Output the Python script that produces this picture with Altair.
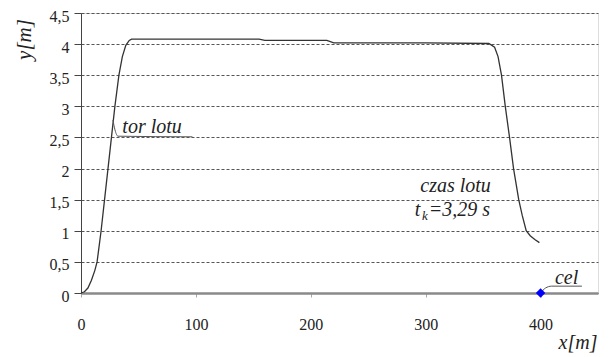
import altair as alt
import pandas as pd

# flight path (x [m], y [m])
path_x = [0, 3, 6, 9, 12, 14, 17.5, 20.5, 23.5, 26.5, 29.5, 33, 36, 39, 42, 44,
          100, 155, 160, 214, 220, 300, 355, 360, 363, 366, 369.3, 373, 376.5,
          381, 384, 387.5, 391, 395, 399]
path_y = [0, 0.02, 0.08, 0.2, 0.36, 0.5, 1.0, 1.5, 2.0, 2.5, 3.0, 3.5, 3.8, 3.98, 4.06, 4.08,
          4.08, 4.08, 4.06, 4.06, 4.02, 4.02, 4.01, 3.95, 3.8, 3.5, 3.0, 2.5, 2.0,
          1.5, 1.25, 1.0, 0.92, 0.86, 0.81]

# target
target_x = [400]
target_y = [0]

# leader lines for annotations
tor_lead_x = [27.8, 29.6, 32.2, 97]
tor_lead_y = [2.78, 2.62, 2.52, 2.51]
cel_lead_x = [400, 404.3, 409.6, 436]
cel_lead_y = [0, 0.08, 0.11, 0.11]

# annotation texts
ann_text = ["tor lotu", "czas lotu", "t", "=3,29 s", "cel"]
ann_x = [36.0, 326, 290.5, 302.6, 412.5]
ann_y = [2.57, 1.62, 1.24, 1.24, 0.145]
ann_align = ["left", "center", "left", "left", "left"]
sub_text = ["k"]
sub_x = [296.8]
sub_y = [1.18]

y_ticks = [0, 0.5, 1, 1.5, 2, 2.5, 3, 3.5, 4, 4.5]
x_ticks = [0, 100, 200, 300, 400]

FONT = "serif"

xs = alt.Scale(domain=[0, 450], nice=False)
ys = alt.Scale(domain=[0, 4.5], nice=False)

x_axis = alt.Axis(
    values=x_ticks, grid=False, domainColor="#8a8a8a", domainWidth=2.5,
    tickColor="#aaaaaa", tickSize=4, labelPadding=19,
    labelFont=FONT, labelFontSize=16, labelColor="#222222", labelFlush=False,
    title="x[m]", titleFont=FONT, titleFontStyle="italic", titleFontWeight="normal",
    titleFontSize=20, titleColor="#222222", titleX=516, titleY=55,
    titleAlign="right", titleBaseline="alphabetic")
y_axis = alt.Axis(
    values=y_ticks, grid=True, gridColor="#555555", gridDash=[3, 2], gridWidth=1,
    domainColor="#444444", tickColor="#444444", tickSize=7, labelPadding=5,
    labelFont=FONT, labelFontSize=16, labelColor="#222222", labelFlush=False,
    labelOverlap=False, labelOffset=3,
    labelExpr="replace(format(datum.value, '~g'), '.', ',')",
    title="y[m]", titleFont=FONT, titleFontStyle="italic", titleFontWeight="normal",
    titleFontSize=21, titleColor="#222222", titleAngle=270, titleX=-57, titleY=26,
    titleAlign="center", titleBaseline="middle")


def X():
    return alt.X("x:Q", scale=xs, axis=x_axis)


def Y():
    return alt.Y("y:Q", scale=ys, axis=y_axis)


path_df = pd.DataFrame({"x": path_x, "y": path_y, "o": range(len(path_x))})
curve = alt.Chart(path_df).mark_line(color="#333333", strokeWidth=1.3).encode(
    x=X(), y=Y(), order="o:Q")

tor_df = pd.DataFrame({"x": tor_lead_x, "y": tor_lead_y, "o": range(len(tor_lead_x))})
tor_line = alt.Chart(tor_df).mark_line(color="#555555", strokeWidth=1, interpolate="monotone").encode(
    x=X(), y=Y(), order="o:Q")

cel_df = pd.DataFrame({"x": cel_lead_x, "y": cel_lead_y, "o": range(len(cel_lead_x))})
cel_line = alt.Chart(cel_df).mark_line(color="#555555", strokeWidth=1, interpolate="monotone").encode(
    x=X(), y=Y(), order="o:Q")

tgt = alt.Chart(pd.DataFrame({"x": target_x, "y": target_y})).mark_point(
    shape="diamond", filled=True, color="#0000ff", size=90, opacity=1).encode(
    x=X(), y=Y())

ann_df = pd.DataFrame({"t": ann_text, "x": ann_x, "y": ann_y, "a": ann_align})
layers = []
for al in ["left", "center"]:
    layers.append(alt.Chart(ann_df[ann_df["a"] == al]).mark_text(
        font=FONT, fontStyle="italic", fontSize=20, color="#222222",
        align=al, baseline="alphabetic").encode(
        x=X(), y=Y(), text="t:N"))

sub = alt.Chart(pd.DataFrame({"t": sub_text, "x": sub_x, "y": sub_y})).mark_text(
    font=FONT, fontStyle="italic", fontSize=13, color="#222222",
    align="left", baseline="alphabetic").encode(
    x=X(), y=Y(), text="t:N")

chart = alt.layer(curve, tor_line, cel_line, tgt, *layers, sub).properties(
    width=517, height=280,
    autosize=alt.AutoSizeParams(type="none"),
    padding={"left": 73, "top": 5, "right": 6, "bottom": 64},
).configure_view(stroke=None).configure(background="white")

chart.save("out.html", embed_options={"renderer": "svg", "actions": False})
